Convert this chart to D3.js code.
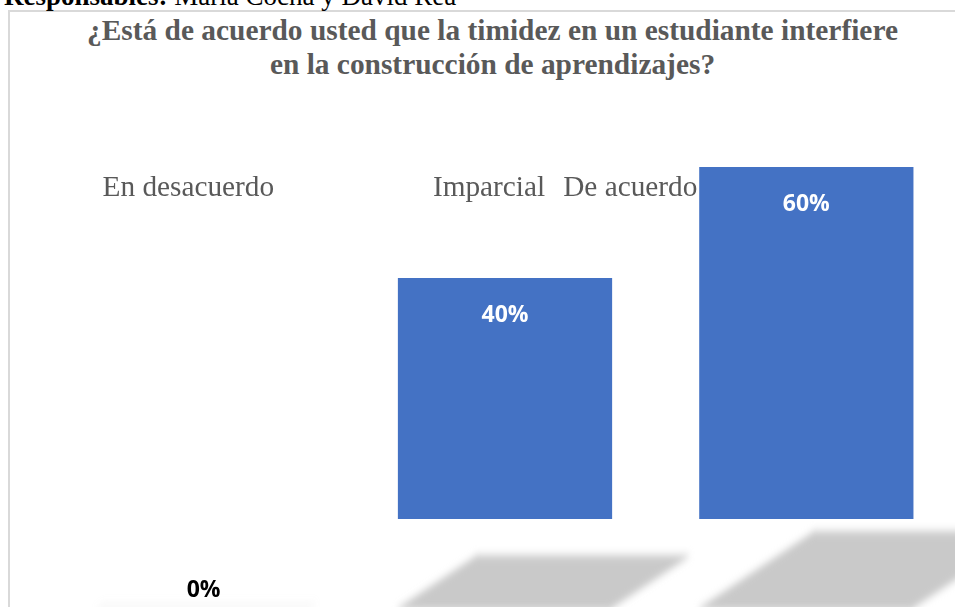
<!DOCTYPE html>
<html lang="es">
<head>
<meta charset="utf-8">
<script src="https://cdn.jsdelivr.net/npm/d3@7.9.0/dist/d3.min.js"></script>
<style>
  html, body { margin: 0; padding: 0; background: #fff; overflow: hidden; }
  svg { display: block; }
</style>
</head>
<body>
<svg id="chart" width="955" height="607"></svg>
<script>
// ── datos ─────────────────────────────────────────────────────────────────────
const categories = ['En desacuerdo', 'Imparcial', 'De acuerdo'];
const values = [0, 0.4, 0.6];
const valueLabels = ['0%', '40%', '60%'];
const titleLines = [
  '¿Está de acuerdo usted que la timidez en un estudiante interfiere',
  'en la construcción de aprendizajes?',
];

// ── medidas ───────────────────────────────────────────────────────────────────
const width = 955;
const height = 607;
const serif = "'Liberation Serif', 'Times New Roman', serif";
const sans = "'Open Sans', 'Liberation Sans', sans-serif";
const barColor = '#4472c4';
const depth = 19; // las barras bajan un poco por debajo del cero (efecto 3D)
const ground = 610; // línea donde nacen las sombras
const labelShift = [6, 35, -136]; // etiquetas de categoría, desde el borde de la banda

let svg = d3.select('#chart');

let x = d3
  .scaleBand()
  .domain(categories)
  .range([53, 957])
  .paddingInner(0.289)
  .paddingOuter(0.1445);

let y = d3.scaleLinear().domain([0, 0.6]).range([500, 167]);
let yBase = y(0) + depth;

let defs = svg.append('defs');
defs
  .append('filter')
  .attr('id', 'blur')
  .attr('x', '-20%')
  .attr('y', '-40%')
  .attr('width', '140%')
  .attr('height', '180%')
  .append('feGaussianBlur')
  .attr('stdDeviation', '2 4');

// marco del gráfico
svg
  .append('rect')
  .attr('x', 9)
  .attr('y', 11)
  .attr('width', 1000)
  .attr('height', 700)
  .attr('fill', 'none')
  .attr('stroke', '#d9d9d9')
  .attr('stroke-width', 2);

// línea de responsables (cortada arriba, como en la captura)
let resp = svg
  .append('text')
  .attr('x', 4)
  .attr('y', 5)
  .attr('font-family', serif)
  .attr('font-size', 27)
  .attr('fill', '#000');
resp.append('tspan').attr('font-weight', 'bold').text('Responsables:');
resp.append('tspan').text(' María Cocha y David Rea');

// ── título ────────────────────────────────────────────────────────────────────
svg
  .append('g')
  .selectAll('text')
  .data(titleLines)
  .join('text')
  .attr('x', 492.5)
  .attr('y', (d, i) => 40 + i * 34)
  .attr('text-anchor', 'middle')
  .attr('font-family', serif)
  .attr('font-weight', 'bold')
  .attr('font-size', 29.4)
  .attr('fill', '#595959')
  .text((d) => d);

// ── sombras ───────────────────────────────────────────────────────────────────
let shadows = svg.append('g').attr('filter', 'url(#blur)');
categories.forEach((c, i) => {
  let h = yBase - y(values[i]);
  let len = 3 + 0.215 * h;
  let skew = 1.5 * len;
  let x0 = x(c) - 3;
  let x1 = x(c) + x.bandwidth() - 3;
  let pts = [
    [x0, ground],
    [x1, ground],
    [x1 + skew, ground - len],
    [x0 + skew, ground - len],
  ];
  shadows
    .append('polygon')
    .attr('points', pts.map((p) => p.join(',')).join(' '))
    .attr('fill', '#c9c9c9')
    .attr('opacity', Math.min(1, len / 50));
});

// ── barras ────────────────────────────────────────────────────────────────────
svg
  .append('g')
  .selectAll('rect')
  .data(values)
  .join('rect')
  .attr('x', (d, i) => x(categories[i]))
  .attr('y', (d) => y(d))
  .attr('width', x.bandwidth())
  .attr('height', (d) => (d > 0 ? yBase - y(d) : 0))
  .attr('fill', barColor);

// etiquetas de categoría (quedan arriba, desplazadas)
svg
  .append('g')
  .selectAll('text')
  .data(categories)
  .join('text')
  .attr('x', (d, i) => x(d) + labelShift[i])
  .attr('y', 196)
  .attr('font-family', serif)
  .attr('font-size', 29.3)
  .attr('fill', '#595959')
  .text((d) => d);

// etiquetas de datos
svg
  .append('g')
  .selectAll('text')
  .data(values)
  .join('text')
  .attr('x', (d, i) => x(categories[i]) + x.bandwidth() / 2)
  .attr('y', (d) => (d > 0 ? y(d) + 44 : yBase + 78))
  .attr('text-anchor', 'middle')
  .attr('font-family', sans)
  .attr('font-weight', 'bold')
  .attr('font-size', 23)
  .attr('fill', (d) => (d > 0 ? '#fff' : '#000'))
  .text((d, i) => valueLabels[i]);
</script>
</body>
</html>
